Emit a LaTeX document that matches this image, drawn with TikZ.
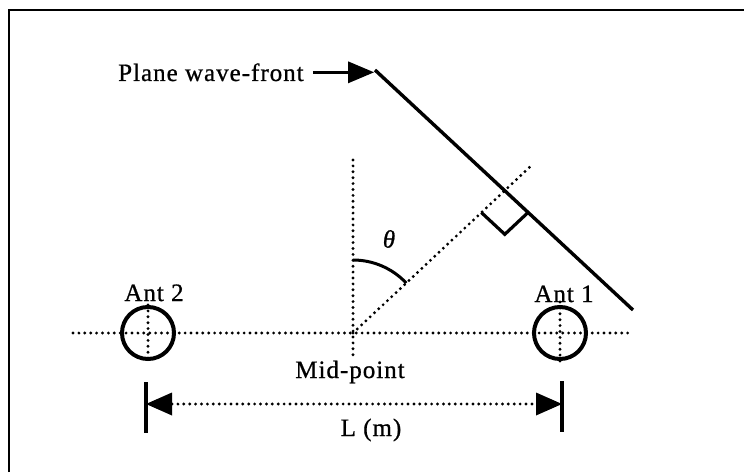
\documentclass[tikz,border=0pt]{standalone}
\usepackage{fontspec}
\setmainfont{Liberation Serif}[LetterSpace=4,FakeBold=0.8]
\usetikzlibrary{arrows.meta,calc}
\begin{document}
\begin{tikzpicture}[x=1pt,y=1pt,
  dotline/.style={line width=3.2pt, dash pattern=on 0pt off 5.9pt, line cap=round},
  solidline/.style={line width=3.4pt},
  ant/.style={circle, draw, line width=4pt, minimum size=52pt, inner sep=0pt},
  lbl/.style={font=\fontsize{25}{29}\selectfont, inner sep=0pt}
]
\useasboundingbox (0,0) rectangle (744,472);
% frame (top and left edges only)
\draw[line width=2.2pt] (9,0) -- (9,462) -- (744,462);

% coordinates
\coordinate (mid) at (353,139);
\coordinate (hl) at (73,139);
\coordinate (hr) at (629,139);
\coordinate (vtop) at (353,312);
\coordinate (vbot) at (353,115);
\coordinate (dend) at (532,307);
\coordinate (wf1) at (375,402);
\coordinate (wf2) at (633,162);
\coordinate (a2t) at (148,167);
\coordinate (a2b) at (148,109);
\coordinate (a1t) at (560,170);
\coordinate (a1b) at (560,110);

% dotted construction lines
\draw[dotline] (hl) -- (hr);
\draw[dotline] (a2t) -- (a2b);
\draw[dotline] (a1t) -- (a1b);
\draw[dotline] (vtop) -- (vbot);
\draw[dotline] (mid) -- (dend);

% antennas
\node[ant] (a2) at (148,139) {};
\node[ant] (a1) at (560,139) {};
\node[lbl, anchor=base] (l2) at (154,171) {Ant 2};
\node[lbl, anchor=base] (l1) at (564,170) {Ant 1};

% angle
\draw[line width=3pt] ($(mid)+(0,73)$) arc[start angle=90, end angle=43.2, radius=73];
\node[lbl, font=\fontsize{25}{29}\selectfont\itshape] (theta) at (389,233) {θ};

% wave front
\draw[solidline] (wf1) -- (wf2);
\coordinate (I) at (intersection of mid--dend and wf1--wf2);
\coordinate (ra1) at ($(I)!32pt!(mid)$);
\coordinate (ra3) at ($(I)!32pt!(wf2)$);
\coordinate (ra2) at ($(ra1)+(ra3)-(I)$);
\draw[line width=3.2pt] (ra1) -- (ra2) -- (ra3);

% label with arrow
\node[lbl, anchor=base west] (pwf) at (118,391) {Plane wave-front};
\coordinate (pwtip) at (374,397);
\draw[line width=3.4pt, -{Triangle[length=26pt,width=22pt,line width=0pt]}]
  ([xshift=9pt]pwf.east) -- (pwf.east -| pwtip);

% mid-point label
\node[lbl, anchor=base] (midlbl) at (350,94) {Mid-point};

% dimension line
\coordinate (bl1) at (146,90);
\coordinate (bl2) at (146,39);
\coordinate (br1) at (562,91);
\coordinate (br2) at (562,40);
\coordinate (dl) at (146,68);
\coordinate (dr) at (562,68);
\draw[line width=4pt] (bl1) -- (bl2);
\draw[line width=4pt] (br1) -- (br2);
\draw[dotline, {Triangle[length=26pt,width=23pt,line width=0pt]}-{Triangle[length=26pt,width=23pt,line width=0pt]}] (dl) -- (dr);
\node[lbl, anchor=base] (Llbl) at (371,36) {L (m)};
\end{tikzpicture}
\end{document}
